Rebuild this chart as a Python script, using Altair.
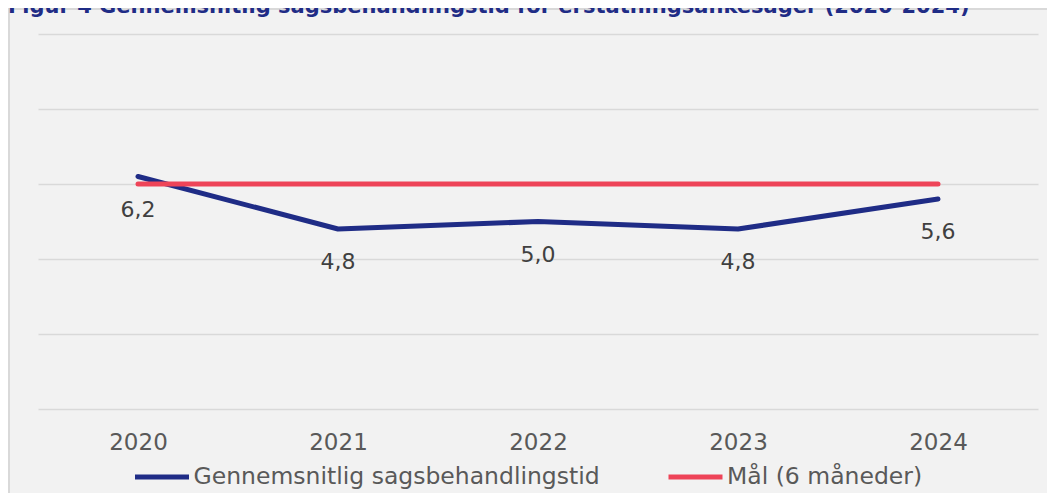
import altair as alt
import pandas as pd

years = ["2020", "2021", "2022", "2023", "2024"]
avg_time = [6.2, 4.8, 5.0, 4.8, 5.6]
goal = [6, 6, 6, 6, 6]
series_avg = "Gennemsnitlig sagsbehandlingstid"
series_goal = "Mål (6 måneder)"
title_text = "Figur 4 Gennemsnitlig sagsbehandlingstid for erstatningsankesager (2020-2024)"
y_grid = [0, 2, 4, 6, 8, 10]

NAVY = "#1F2C86"
RED = "#EE4458"
FONT = "DejaVu Sans"

avg_df = pd.DataFrame({"year": years, "value": avg_time, "series": series_avg})
goal_df = pd.DataFrame({"year": years, "value": goal, "series": series_goal})
one = pd.DataFrame({"a": [0]})

x_enc = alt.X(
    "year:N",
    scale=alt.Scale(type="point", padding=0.5),
    axis=alt.Axis(title=None, labelAngle=0, labelFontSize=23, labelColor="#595959",
                  labelFont=FONT, labelPadding=22, domain=False, ticks=False, grid=False),
)
y_enc = alt.Y(
    "value:Q",
    scale=alt.Scale(domain=[0, 10], nice=False, zero=True),
    axis=alt.Axis(title=None, labels=False, ticks=False, domain=False, values=y_grid,
                  gridColor="#D9D9D9", gridWidth=1.5),
)
color_enc = alt.Color(
    "series:N",
    scale=alt.Scale(domain=[series_avg, series_goal], range=[NAVY, RED]),
    legend=alt.Legend(orient="none", legendX=94.5, legendY=413.5, direction="horizontal",
                      title=None, symbolType="stroke", symbolSize=2916, symbolStrokeWidth=5,
                      labelFontSize=23.5, labelColor="#595959", labelFont=FONT,
                      labelOffset=2, columnPadding=57.5, labelLimit=700, padding=0),
)

frame_top = alt.Chart(one).mark_rule(color="#D9D9D9", strokeWidth=2).encode(
    x=alt.value(-30), x2=alt.value(1010), y=alt.value(-25), y2=alt.value(-25))
frame_left = alt.Chart(one).mark_rule(color="#D9D9D9", strokeWidth=2).encode(
    x=alt.value(-29), x2=alt.value(-29), y=alt.value(-26), y2=alt.value(460))
title = alt.Chart(one).mark_text(
    text=title_text, align="left", baseline="alphabetic", fontSize=21,
    fontWeight="bold", font=FONT, color=NAVY
).encode(x=alt.value(-30), y=alt.value(-21))

line_avg = alt.Chart(avg_df).mark_line(strokeWidth=5, strokeCap="round", strokeJoin="round").encode(
    x=x_enc, y=y_enc, color=color_enc)
line_goal = alt.Chart(goal_df).mark_line(strokeWidth=5, strokeCap="round", strokeJoin="round").encode(
    x=x_enc, y=y_enc, color=color_enc)
labels = alt.Chart(avg_df).transform_calculate(
    label="replace(format(datum.value, '.1f'), '.', ',')"
).mark_text(dy=33, fontSize=22, color="#404040", font=FONT).encode(
    x=x_enc, y=y_enc, text="label:N")

chart = alt.layer(frame_top, frame_left, title, line_avg, line_goal, labels).properties(
    width=1000, height=375,
    autosize=alt.AutoSizeParams(type="none"),
    padding={"left": 30, "top": 26, "right": 9, "bottom": 84},
).configure(background="#F2F2F2").configure_view(stroke=None)

chart.save("out.html", embed_options={"renderer": "svg", "actions": False})
